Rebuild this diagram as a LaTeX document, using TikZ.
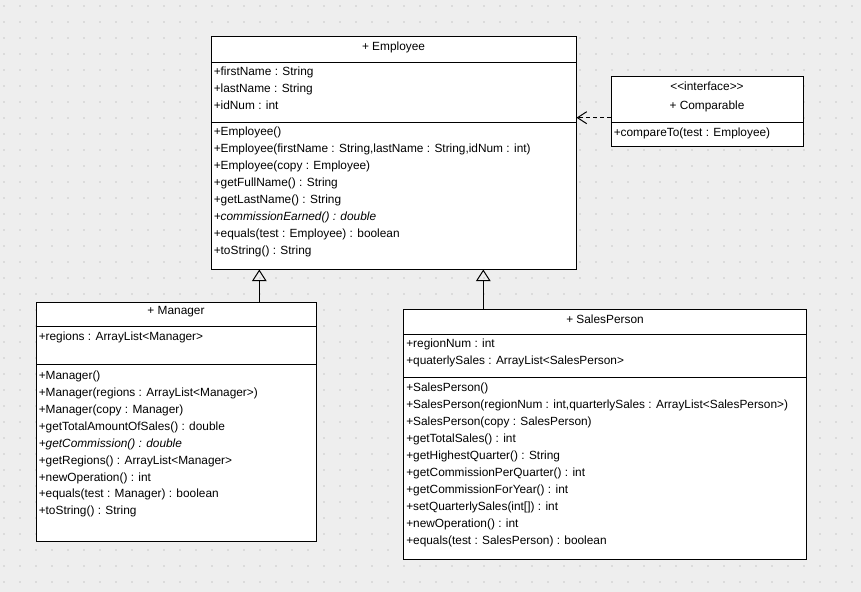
\documentclass[tikz,border=0pt]{standalone}
\usepackage{fontspec}
\setmainfont{Liberation Sans}
\usetikzlibrary{arrows.meta,fit}
\definecolor{canvas}{HTML}{EEEEEE}
\definecolor{griddot}{HTML}{DBDBDB}
\tikzstyle{classbox}=[draw, fill=white, line width=0.75pt, inner sep=0pt]
\tikzstyle{member}=[anchor=west, inner sep=0pt, text height=6.4pt, text depth=0pt, font=\fontsize{8.9}{10}\selectfont]
\tikzstyle{title}=[member, anchor=center]
\tikzstyle{inherit}=[line width=0.75pt, -{Triangle[open, length=8.75pt, width=11pt]}]
\tikzstyle{realize}=[line width=0.75pt, dash pattern=on 3pt off 2.25pt, -{Straight Barb[length=7pt, width=9pt]}]

\begin{document}
\begin{tikzpicture}[x=0.75pt, y=-0.75pt]
                    \useasboundingbox (0,0) rectangle (861,592);
                    \fill[canvas] (0,0) rectangle (861,592);
                    \foreach \gx in {4,20,...,860}
                        \foreach \gy in {6,22,...,590}
                            \fill[griddot] (\gx-1,\gy-1) rectangle (\gx+1,\gy+1);

                    % Employee
                    \node[classbox, fit={(211,37) (576,269)}] (emp) {};
                    \draw (211,62) -- (576,62) (211,122) -- (576,122);
                    \node[title] (emp-t) at (393.5,46.7) {+ Employee};
                    \node[member] (emp-a1) at (213.5,71.7) {+firstName : String};
                    \node[member] (emp-a2) at (213.5,88.7) {+lastName : String};
                    \node[member] (emp-a3) at (213.5,105.7) {+idNum : int};
                    \node[member] (emp-m1) at (213.5,131.7) {+Employee()};
                    \node[member] (emp-m2) at (213.5,148.7) {+Employee(firstName : String,lastName : String,idNum : int)};
                    \node[member] (emp-m3) at (213.5,165.7) {+Employee(copy : Employee)};
                    \node[member] (emp-m4) at (213.5,182.7) {+getFullName() : String};
                    \node[member] (emp-m5) at (213.5,199.7) {+getLastName() : String};
                    \node[member] (emp-m6) at (213.5,216.7) {\itshape +commissionEarned() : double};
                    \node[member] (emp-m7) at (213.5,233.7) {+equals(test : Employee) : boolean};
                    \node[member] (emp-m8) at (213.5,250.7) {+toString() : String};

                    % Comparable
                    \node[classbox, fit={(611,77) (803,147)}] (cmp) {};
                    \draw (611,122) -- (803,122);
                    \node[title] (cmp-s) at (707,86.7) {<\kern0pt<interface>\kern0pt>};
                    \node[title] (cmp-t) at (707,105.7) {+ Comparable};
                    \node[member] (cmp-m1) at (613.5,132.3) {+compareTo(test : Employee)};

                    % Manager
                    \node[classbox, fit={(36,302) (316,541)}] (mgr) {};
                    \draw (36,326) -- (316,326) (36,364.3) -- (316,364.3);
                    \node[title] (mgr-t) at (176,310.7) {+ Manager};
                    \node[member] (mgr-a1) at (38.5,336) {+regions : ArrayList<Manager>};
                    \node[member] (mgr-m1) at (38.5,375.4) {+Manager()};
                    \node[member] (mgr-m2) at (38.5,392.3) {+Manager(regions : ArrayList<Manager>)};
                    \node[member] (mgr-m3) at (38.5,409.2) {+Manager(copy : Manager)};
                    \node[member] (mgr-m4) at (38.5,426.1) {+getTotalAmountOfSales() : double};
                    \node[member] (mgr-m5) at (38.5,443) {\itshape +getCommission() : double};
                    \node[member] (mgr-m6) at (38.5,459.9) {+getRegions() : ArrayList<Manager>};
                    \node[member] (mgr-m7) at (38.5,476.8) {+newOperation() : int};
                    \node[member] (mgr-m8) at (38.5,493.7) {+equals(test : Manager) : boolean};
                    \node[member] (mgr-m9) at (38.5,510.6) {+toString() : String};

                    % SalesPerson
                    \node[classbox, fit={(403.3,309.3) (806.7,559.3)}] (sp) {};
                    \draw (403.3,334) -- (806.7,334) (403.3,377.3) -- (806.7,377.3);
                    \node[title] (sp-t) at (605,319) {+ SalesPerson};
                    \node[member] (sp-a1) at (406,343.3) {+regionNum : int};
                    \node[member] (sp-a2) at (406,360.3) {+quaterlySales : ArrayList<SalesPerson>};
                    \node[member] (sp-m1) at (406,387.7) {+SalesPerson()};
                    \node[member] (sp-m2) at (406,404.7) {+SalesPerson(regionNum : int,quarterlySales : ArrayList<SalesPerson>)};
                    \node[member] (sp-m3) at (406,421.7) {+SalesPerson(copy : SalesPerson)};
                    \node[member] (sp-m4) at (406,438.7) {+getTotalSales() : int};
                    \node[member] (sp-m5) at (406,455.7) {+getHighestQuarter() : String};
                    \node[member] (sp-m6) at (406,472.7) {+getCommissionPerQuarter() : int};
                    \node[member] (sp-m7) at (406,489.7) {+getCommissionForYear() : int};
                    \node[member] (sp-m8) at (406,506.7) {+setQuarterlySales(int[]) : int};
                    \node[member] (sp-m9) at (406,523.7) {+newOperation() : int};
                    \node[member] (sp-m10) at (406,540.7) {+equals(test : SalesPerson) : boolean};

                    % relations
                    \coordinate (cmp-in) at (611,117.7);
                    \coordinate (mgr-up) at (259.3,302);
                    \coordinate (sp-up) at (483.3,309.3);
                    \draw[realize] (cmp-in) -- (cmp-in -| emp.east);
                    \draw[inherit] (mgr-up) -- (mgr-up |- emp.south);
                    \draw[inherit] (sp-up) -- (sp-up |- emp.south);
                \end{tikzpicture}
\end{document}
